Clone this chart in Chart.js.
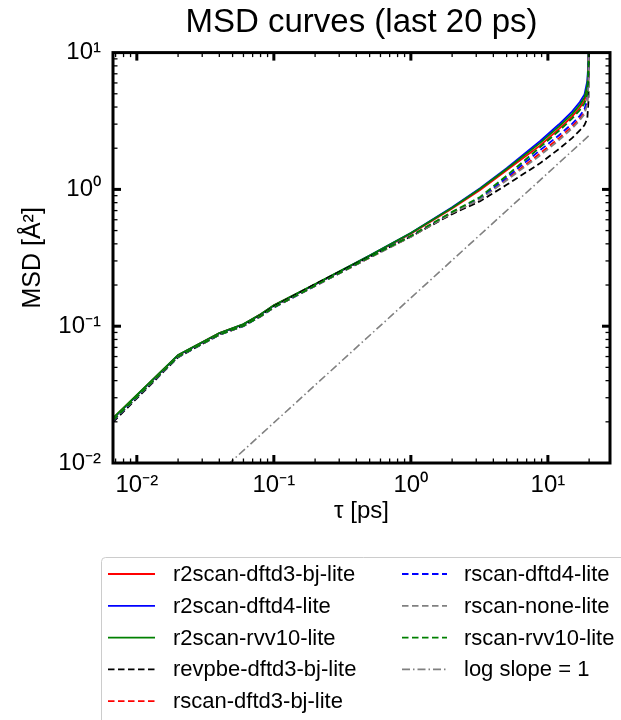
<!DOCTYPE html>
<html><head><meta charset="utf-8">
<script src="https://cdn.jsdelivr.net/npm/chart.js@4.4.1/dist/chart.umd.min.js"></script>
<style>html,body{margin:0;padding:0;background:#fff}</style>
</head><body>
<canvas id="c" width="621" height="720"></canvas>
<script>
// ---- data ----
const tau = [0.0067, 0.02, 0.04, 0.06, 0.08, 0.1, 0.2, 0.5, 1, 2, 3.2, 5, 8.75, 12, 15, 17.1, 18.5, 19.4, 19.8, 20];
const r2scanD3bj = [0.0212, 0.0614, 0.089, 0.1033, 0.122, 0.142, 0.202, 0.326, 0.475, 0.725, 0.99, 1.38, 2.09, 2.76, 3.4, 3.95, 4.45, 5.4, 8, 30];
const r2scanD4   = [0.0211, 0.0613, 0.0888, 0.1032, 0.1218, 0.1418, 0.202, 0.328, 0.48, 0.74, 1.02, 1.43, 2.25, 2.98, 3.7, 4.35, 4.95, 6.2, 9, 30];
const r2scanRvv10= [0.0213, 0.0616, 0.0892, 0.1036, 0.1222, 0.1422, 0.203, 0.329, 0.48, 0.735, 1.01, 1.41, 2.18, 2.88, 3.55, 4.15, 4.7, 5.8, 8.5, 30];
const revpbeD3bj = [0.0199, 0.0592, 0.0868, 0.1008, 0.1195, 0.1395, 0.203, 0.322, 0.452, 0.66, 0.82, 1.08, 1.55, 1.97, 2.37, 2.7, 2.95, 3.3, 4.5, 30];
const rscanD3bj  = [0.0205, 0.0598, 0.0866, 0.1003, 0.118, 0.137, 0.197, 0.317, 0.452, 0.675, 0.85, 1.18, 1.83, 2.36, 2.88, 3.3, 3.65, 4.3, 6.5, 30];
const rscanD4    = [0.0204, 0.0596, 0.0864, 0.1001, 0.1178, 0.1368, 0.197, 0.318, 0.455, 0.68, 0.86, 1.22, 1.93, 2.48, 3.01, 3.45, 3.85, 4.6, 7, 30];
const rscanNone  = [0.0205, 0.0597, 0.0865, 0.1002, 0.118, 0.137, 0.197, 0.316, 0.45, 0.672, 0.845, 1.165, 1.77, 2.28, 2.79, 3.2, 3.55, 4.2, 6, 30];
const rscanRvv10 = [0.0206, 0.0599, 0.0868, 0.1005, 0.1183, 0.1373, 0.198, 0.319, 0.457, 0.685, 0.88, 1.26, 2.03, 2.67, 3.29, 3.8, 4.25, 5.0, 7.5, 30];
const slopeX = [0.0067, 20];
const slopeY = [0.00167, 2.48];

const xMajorTicks = [0.01, 0.1, 1, 10];
const xTickLabels = ['10\u207B\u00B2', '10\u207B\u00B9', '10\u2070', '10\u00B9'];
const yMajorTicks = [0.01, 0.1, 1, 10];
const yTickLabels = ['10\u207B\u00B2', '10\u207B\u00B9', '10\u2070', '10\u00B9'];

const seriesLabels = ['r2scan-dftd3-bj-lite','r2scan-dftd4-lite','r2scan-rvv10-lite','revpbe-dftd3-bj-lite',
  'rscan-dftd3-bj-lite','rscan-dftd4-lite','rscan-none-lite','rscan-rvv10-lite','log slope = 1'];
const seriesValues = [r2scanD3bj, r2scanD4, r2scanRvv10, revpbeD3bj, rscanD3bj, rscanD4, rscanNone, rscanRvv10];

// ---- styles ----
const colors = ['#ff0000','#0000ff','#008000','#000000','#ff0000','#0000ff','#808080','#008000','#808080'];
const DASH = [6.5, 3.5];
const dashes = [[],[],[],DASH,DASH,DASH,DASH,DASH,[8,3,1.5,3]];
const FONT = '"Liberation Sans", Arial, Helvetica, sans-serif';

const datasets = seriesLabels.map((lab, i) => {
  const pts = i < 8 ? tau.map((t, j) => ({x: t, y: seriesValues[i][j]}))
                    : slopeX.map((t, j) => ({x: t, y: slopeY[j]}));
  return {label: lab, data: pts, borderColor: colors[i], backgroundColor: colors[i],
    borderDash: dashes[i], borderWidth: i === 8 ? 1.6 : 1.8, pointRadius: 0, fill: false,
    tension: 0, order: 20 - i};
});

function logTicks(majors, lo, hi) {
  const out = [];
  const decades = [majors[0] / 10].concat(majors);
  decades.forEach(d => { for (let k = 1; k <= 9; k++) {
    const v = k * d;
    if (v >= lo * 0.9999 && v <= hi * 1.0001) out.push({value: v, major: k === 1});
  }});
  return out;
}

function labelOf(v, majors, labels) {
  for (let i = 0; i < majors.length; i++) if (Math.abs(v / majors[i] - 1) < 1e-6) return labels[i];
  return '';
}

const framePlugin = {
  id: 'frameTicksLegend',
  afterDraw(chart) {
    const {ctx, chartArea: a, scales: {x, y}} = chart;
    ctx.save();
    ctx.strokeStyle = '#000';
    const seg = (x1, y1, x2, y2) => { ctx.beginPath(); ctx.moveTo(x1, y1); ctx.lineTo(x2, y2); ctx.stroke(); };
    x.ticks.forEach(t => {
      const p = x.getPixelForValue(t.value);
      if (p < a.left + 2 || p > a.right - 2) return;
      const L = t.major ? 8 : 4.5; ctx.lineWidth = t.major ? 3 : 1.3;
      seg(p, a.bottom, p, a.bottom - L); seg(p, a.top, p, a.top + L);
    });
    y.ticks.forEach(t => {
      const p = y.getPixelForValue(t.value);
      if (p < a.top + 2 || p > a.bottom - 2) return;
      const L = t.major ? 8 : 4.5; ctx.lineWidth = t.major ? 3 : 1.3;
      seg(a.left, p, a.left + L, p); seg(a.right, p, a.right - L, p);
    });
    ctx.lineWidth = 3;
    ctx.strokeRect(a.left, a.top, a.right - a.left, a.bottom - a.top);

    // legend (two columns, column-major like the reference)
    ctx.fillStyle = 'rgba(255,255,255,0.8)';
    ctx.strokeStyle = '#cccccc'; ctx.lineWidth = 1;
    ctx.beginPath(); ctx.roundRect(101.5, 557.5, 560, 220, 4); ctx.fill(); ctx.stroke();
    ctx.font = '22px ' + FONT; ctx.textBaseline = 'middle'; ctx.textAlign = 'left';
    const cols = [{l: 108, r: 155, t: 173}, {l: 402, r: 447, t: 464}];
    chart.data.datasets.forEach((ds, i) => {
      const c = cols[i < 5 ? 0 : 1];
      const row = i < 5 ? i : i - 5;
      const yy = 574 + row * 31.8;
      ctx.strokeStyle = ds.borderColor; ctx.lineWidth = 1.8; ctx.setLineDash(ds.borderDash);
      seg(c.l, yy, c.r, yy);
      ctx.setLineDash([]);
      ctx.fillStyle = '#000';
      ctx.fillText(ds.label, c.t, yy + 1);
    });
    ctx.restore();
  }
};

Chart.defaults.font.family = FONT;
Chart.defaults.color = '#000';

const XMIN = 0.0067, XMAX = 28.4, YMIN = 0.01, YMAX = 10;

new Chart(document.getElementById('c'), {
  type: 'line',
  data: {datasets},
  options: {
    responsive: false, animation: false, devicePixelRatio: 1,
    layout: {padding: {left: 0, right: 11, top: 0, bottom: 187}},
    plugins: {
      legend: {display: false}, tooltip: {enabled: false},
      title: {display: true, fullSize: false, text: 'MSD curves (last 20 ps)', color: '#000',
        font: {size: 33, weight: 'normal'}, padding: {top: 3, bottom: 10}}
    },
    scales: {
      x: {type: 'logarithmic', min: XMIN, max: XMAX,
        afterBuildTicks: s => { s.ticks = logTicks(xMajorTicks, XMIN, XMAX); },
        afterFit: s => { s.height = 70; },
        grid: {display: false, drawTicks: false}, border: {display: false},
        ticks: {autoSkip: false, maxRotation: 0, padding: 8, color: '#000', font: {size: 24},
          callback: v => labelOf(v, xMajorTicks, xTickLabels)},
        title: {display: true, text: '\u03C4 [ps]', color: '#000', font: {size: 24}, padding: {top: 0, bottom: 7}}
      },
      y: {type: 'logarithmic', min: YMIN, max: YMAX,
        afterBuildTicks: s => { s.ticks = logTicks(yMajorTicks, YMIN, YMAX); },
        afterFit: s => { s.width = 113; },
        grid: {display: false, drawTicks: false}, border: {display: false},
        ticks: {autoSkip: false, padding: 12, color: '#000', font: {size: 24},
          callback: v => labelOf(v, yMajorTicks, yTickLabels)},
        title: {display: true, text: 'MSD [\u00C5\u00B2]', color: '#000', font: {size: 25}, padding: {top: 18, bottom: 0}}
      }
    }
  },
  plugins: [framePlugin]
});
</script>
</body></html>
